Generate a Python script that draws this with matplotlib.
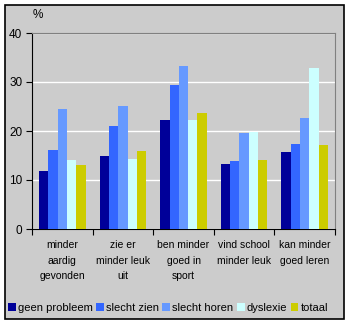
import matplotlib.pyplot as plt
import numpy as np
from matplotlib.patches import Rectangle

categories = ["minder\naardig\ngevonden", "zie er\nminder leuk\nuit", "ben minder\ngoed in\nsport",
              "vind school\nminder leuk", "kan minder\ngoed leren"]
series_names = ["geen probleem", "slecht zien", "slecht horen", "dyslexie", "totaal"]
geen_probleem = [11.9, 14.8, 22.3, 13.3, 15.8]
slecht_zien = [16.2, 21.1, 29.3, 13.8, 17.3]
slecht_horen = [24.4, 25.0, 33.2, 19.5, 22.7]
dyslexie = [14.0, 14.2, 22.3, 19.7, 32.8]
totaal = [13.1, 16.0, 23.7, 14.0, 17.2]
colors = ["#000099", "#3366FF", "#6699FF", "#CCFFFF", "#CCCC00"]
yticks = [0, 10, 20, 30, 40]

plt.rcParams['font.family'] = ['Liberation Sans', 'DejaVu Sans']
W, H = 351, 325
fig = plt.figure(figsize=(W/100, H/100), dpi=100)
fig.patch.set_facecolor('white')
bg = Rectangle((5/W, 1-319/H), 339/W, 314/H, transform=fig.transFigure,
               facecolor='#CCCCCC', edgecolor='black', linewidth=1.2, zorder=-10)
fig.patches.append(bg)

ax = fig.add_axes([32/W, 1-229/H, 303/W, 196/H])
ax.set_zorder(5)
ax.set_facecolor('#CCCCCC')
data = [geen_probleem, slecht_zien, slecht_horen, dyslexie, totaal]
x = np.arange(len(categories))
bw = 0.77/5
for i, (vals, c, name) in enumerate(zip(data, colors, series_names)):
    ax.bar(x - 0.385 + bw*(i+0.5), vals, width=bw, color=c, label=name, zorder=3, linewidth=0)
ax.set_xlim(-0.5, 4.5)
ax.set_ylim(0, 40)
ax.set_yticks(yticks)
ax.yaxis.grid(True, color='white', linewidth=1, zorder=1)
ax.set_axisbelow(True)
for s in ['top', 'right']:
    ax.spines[s].set_color('#808080')
for s in ['left', 'bottom']:
    ax.spines[s].set_color('black')
ax.set_xticks(np.arange(-0.5, 5, 1))
ax.set_xticklabels([])
ax.set_xticks(x, minor=True)
ax.set_xticklabels(categories, minor=True, fontsize=7.5, linespacing=1.7, va='top')
ax.tick_params(axis='x', which='minor', length=0, pad=8)
ax.tick_params(axis='x', which='major', length=4, direction='out')
ax.tick_params(axis='y', length=4, direction='out', labelsize=8.5, pad=3)
fig.text(33/W, 1-15/H, "%", fontsize=8.5, ha='left', va='center', zorder=10)

leg = fig.legend(loc='center', bbox_to_anchor=(168/W, 1-308/H), ncol=5, frameon=False, fontsize=8,
                 handlelength=0.7, handleheight=0.7, handletextpad=0.2, columnspacing=0.3, borderaxespad=0)
leg.set_zorder(10)
fig.savefig('out.png', dpi=100, facecolor='white')
